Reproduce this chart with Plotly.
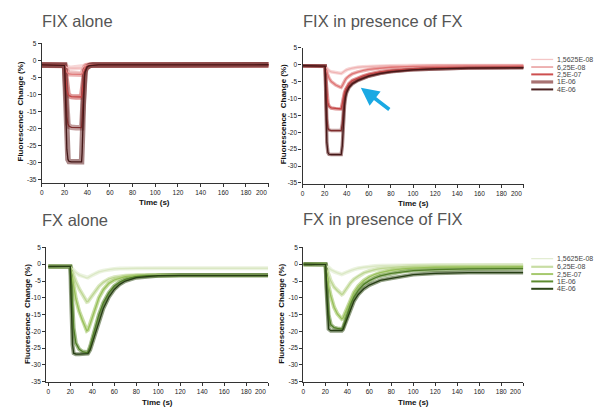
import plotly.graph_objects as go

# The page body has the browser's default 8 px margin, so the figure is made
# 8 px smaller and every pixel position below is given in page pixels.
OFF = 8
W, H = 602 - OFF, 410 - OFF

# ---------------- data ----------------
CONC = ["1,5625E-08", "6,25E-08", "2,5E-07", "1E-06", "4E-06"]

# Panel 1: FIX alone
T_TL = [0, 19, 20, 20.5, 21, 21.5, 22, 23, 24, 26, 30, 35, 35.5, 36, 36.5, 37, 37.5, 38, 39, 40, 42, 45, 50, 100, 150, 200]
TL_1p56e8 = [-1.3, -1.3, -1.4, -1.6, -1.8, -1.95, -2.05, -2.15, -2.2, -2.25, -2.25, -2.25, -2.15, -2.0, -1.85, -1.75, -1.65, -1.55, -1.45, -1.4, -1.35, -1.3, -1.3, -1.3, -1.25, -1.25]
TL_6p25e8 = [-1.3, -1.3, -1.4, -2.0, -2.6, -3.1, -3.4, -3.7, -3.9, -4.0, -4.05, -4.05, -3.8, -3.3, -2.8, -2.4, -2.1, -1.9, -1.6, -1.5, -1.4, -1.35, -1.3, -1.3, -1.25, -1.25]
TL_2p5e7 = [-1.3, -1.3, -1.4, -3.0, -5.5, -7.3, -8.5, -9.8, -10.3, -10.6, -10.7, -10.7, -9.5, -7.5, -5.5, -4.2, -3.3, -2.7, -2.0, -1.7, -1.45, -1.35, -1.3, -1.3, -1.25, -1.25]
TL_1e6 = [-1.3, -1.3, -1.4, -5.0, -10.0, -14.0, -16.5, -18.6, -19.3, -19.6, -19.7, -19.7, -17.5, -13.0, -9.0, -6.0, -4.2, -3.2, -2.2, -1.8, -1.5, -1.35, -1.3, -1.3, -1.25, -1.25]
TL_4e6 = [-1.3, -1.3, -1.4, -6.0, -14.0, -21.0, -26.0, -29.0, -29.6, -29.7, -29.7, -29.7, -27.0, -20.0, -13.0, -8.0, -5.0, -3.5, -2.3, -1.8, -1.5, -1.35, -1.3, -1.3, -1.25, -1.25]

# Panel 2: FIX in presence of FX
T_TR = [0, 20, 20.5, 21, 21.5, 22, 23, 24, 26, 30, 34, 35, 36, 37, 38, 39, 40, 42, 45, 50, 55, 60, 70, 80, 100, 120, 150, 200]
TR_1p56e8 = [-0.3, -0.3, -0.4, -0.7, -0.95, -1.2, -1.5, -1.8, -2.1, -2.4, -2.6, -2.6, -2.4, -2.1, -1.85, -1.65, -1.5, -1.25, -1.0, -0.75, -0.6, -0.5, -0.35, -0.3, -0.25, -0.2, -0.2, -0.2]
TR_6p25e8 = [-0.3, -0.3, -0.5, -1.2, -1.8, -2.4, -3.3, -4.0, -5.0, -6.0, -6.6, -6.7, -6.2, -5.4, -4.8, -4.3, -3.9, -3.3, -2.7, -2.1, -1.7, -1.4, -1.0, -0.75, -0.5, -0.4, -0.35, -0.3]
TR_2p5e7 = [-0.3, -0.3, -0.4, -3.5, -6.5, -8.8, -11.3, -12.3, -12.8, -13.0, -13.1, -13.1, -11.5, -9.5, -8.2, -7.3, -6.6, -5.6, -4.7, -3.9, -3.3, -2.8, -2.1, -1.7, -1.2, -0.95, -0.8, -0.7]
TR_1e6 = [-0.3, -0.3, -0.4, -6.0, -12.0, -16.0, -18.8, -19.3, -19.5, -19.5, -19.5, -19.5, -17.5, -13.0, -10.0, -8.5, -7.5, -6.4, -5.4, -4.5, -3.8, -3.3, -2.5, -2.0, -1.45, -1.15, -0.95, -0.85]
TR_4e6 = [-0.3, -0.3, -0.4, -8.0, -17.0, -23.0, -26.0, -26.5, -26.6, -26.6, -26.6, -26.6, -24.0, -17.0, -12.0, -9.5, -8.2, -6.8, -5.7, -4.7, -4.0, -3.4, -2.6, -2.1, -1.5, -1.2, -1.0, -0.9]

# Panel 3: FX alone
T_BL = [0, 20, 20.5, 21, 22, 23, 25, 28, 31, 35, 36, 38, 40, 43, 46, 50, 55, 60, 65, 70, 80, 90, 100, 120, 150, 200]
BL_1p56e8 = [-0.7, -0.7, -0.9, -1.1, -1.5, -1.9, -2.5, -3.2, -3.6, -4.1, -4.0, -3.6, -3.2, -2.7, -2.3, -1.9, -1.6, -1.4, -1.3, -1.25, -1.2, -1.2, -1.2, -1.2, -1.2, -1.2]
BL_6p25e8 = [-0.7, -0.7, -1.1, -1.6, -2.6, -3.5, -5.2, -7.3, -9.0, -11.2, -11.1, -10.2, -9.2, -7.8, -6.6, -5.4, -4.4, -3.9, -3.6, -3.4, -3.3, -3.2, -3.2, -3.2, -3.2, -3.2]
BL_2p5e7 = [-0.7, -0.7, -1.7, -2.8, -5.0, -7.0, -10.3, -14.0, -16.8, -19.8, -19.6, -17.8, -15.7, -12.6, -10.0, -7.6, -5.7, -4.7, -4.1, -3.7, -3.4, -3.3, -3.3, -3.3, -3.3, -3.3]
BL_1e6 = [-0.7, -0.7, -3.0, -7.0, -14.0, -19.0, -23.5, -25.3, -26.0, -26.4, -26.2, -24.5, -22.0, -18.3, -15.0, -11.5, -8.5, -6.5, -5.3, -4.5, -3.7, -3.4, -3.3, -3.3, -3.3, -3.3]
BL_4e6 = [-0.7, -0.7, -8.0, -16.0, -24.0, -26.5, -26.8, -26.8, -26.8, -26.8, -26.6, -25.5, -23.5, -20.0, -16.8, -13.2, -9.8, -7.5, -6.0, -5.0, -4.0, -3.6, -3.4, -3.3, -3.3, -3.3]

# Panel 4: FX in presence of FIX
T_BR = [0, 20, 20.5, 21, 22, 23, 25, 28, 31, 35, 36, 38, 40, 43, 46, 50, 55, 60, 65, 70, 80, 90, 100, 120, 150, 200]
BR_1p56e8 = [0, 0, -0.2, -0.4, -0.8, -1.1, -1.6, -2.2, -2.6, -3.0, -2.9, -2.6, -2.3, -1.9, -1.55, -1.2, -0.9, -0.7, -0.55, -0.45, -0.35, -0.3, -0.25, -0.2, -0.2, -0.2]
BR_6p25e8 = [0, 0, -0.5, -1.1, -2.3, -3.4, -5.0, -6.8, -7.9, -9.0, -8.8, -7.8, -6.8, -5.5, -4.5, -3.5, -2.6, -2.0, -1.6, -1.3, -0.9, -0.7, -0.55, -0.45, -0.4, -0.4]
BR_2p5e7 = [0, 0, -1.0, -2.2, -4.5, -6.5, -9.5, -12.8, -14.8, -16.3, -16.1, -14.6, -12.8, -10.3, -8.4, -6.5, -4.9, -3.8, -3.0, -2.5, -1.8, -1.4, -1.15, -0.9, -0.8, -0.75]
BR_1e6 = [0, 0, -2.5, -5.5, -11.0, -15.0, -18.0, -18.9, -19.1, -19.3, -19.0, -17.0, -14.8, -12.0, -9.8, -7.8, -6.0, -4.9, -4.1, -3.5, -2.7, -2.2, -1.9, -1.6, -1.4, -1.3]
BR_4e6 = [0, 0, -0.1, -7.0, -16.0, -19.3, -19.8, -19.8, -19.8, -19.8, -19.5, -17.8, -15.8, -13.2, -11.0, -9.0, -7.3, -6.2, -5.4, -4.8, -4.2, -3.6, -3.1, -2.7, -2.5, -2.5]

X_TICKS = [0, 20, 40, 60, 80, 100, 120, 140, 160, 180, 200]
Y_TICKS = [5, 0, -5, -10, -15, -20, -25, -30, -35]

TITLES = ["FIX alone", "FIX in presence of FX", "FX alone", "FX in presence of FIX"]

# ---------------- styles ----------------
RED = ["#f4c6c6", "#e48a8a", "#cd4f4f", "#a87272", "#4a2222"]
RED_RAW = ["#f2bcbc", "#e08282", "#c85050", "#9c5e5e", "#703636"]
RED_FIT = ["#f0b4b4", "#e07575", "#c44444", "#7e2c2c", "#451818"]
GREEN = ["#e3edd2", "#c8dda4", "#a6c96e", "#5e8c30", "#2d4519"]
GREEN_RAW = ["#e0ebcc", "#c4da9c", "#a2c667", "#6a9440", "#4a6232"]
GREEN_FIT = ["#dbe8c4", "#bdd692", "#98c05a", "#4f7d26", "#263d14"]
LEG_W_TOP = [1.3, 1.3, 2, 3.2, 2]
LEG_W_BOT = [1.3, 2.2, 2, 2, 2]

FONT = "Liberation Sans, Arial, sans-serif"


def px(x):
    return (x - OFF) / W


def py(y):
    return 1 - (y - OFF) / H


panels = [
    dict(t=T_TL, ys=[TL_1p56e8, TL_6p25e8, TL_2p5e7, TL_1e6, TL_4e6], col=RED_RAW, fit=RED_FIT,
         xd=(40, 267.5), yd=(40, 182), xr=[0, 200], yr=[-35.9, 5.0], band=5.5),
    dict(t=T_TR, ys=[TR_1p56e8, TR_6p25e8, TR_2p5e7, TR_1e6, TR_4e6], col=RED_RAW, fit=RED_FIT,
         xd=(301.5, 523.3), yd=(44.3, 182.7), xr=[0, 200], yr=[-35.2, 5.05], band=3.5),
    dict(t=T_BL, ys=[BL_1p56e8, BL_6p25e8, BL_2p5e7, BL_1e6, BL_4e6], col=GREEN_RAW, fit=GREEN_FIT,
         xd=(44.3, 267), yd=(247.6, 384.3), xr=[-2, 200], yr=[-35.0, 5.0], band=4.0),
    dict(t=T_BR, ys=[BR_1p56e8, BR_6p25e8, BR_2p5e7, BR_1e6, BR_4e6], col=GREEN_RAW, fit=GREEN_FIT,
         xd=(302.3, 523), yd=(247.6, 384.3), xr=[0, 200], yr=[-35.0, 5.0], band=4.0),
]

fig = go.Figure()
layout = dict(width=W, height=H, margin=dict(l=0, r=0, t=0, b=0),
              paper_bgcolor="white", plot_bgcolor="white", showlegend=False,
              font=dict(family=FONT, color="#222"))
annotations = []
shapes = []

for i, p in enumerate(panels):
    n = i + 1
    xa = "x" if n == 1 else f"x{n}"
    ya = "y" if n == 1 else f"y{n}"
    # raw-data bands
    for k, y in enumerate(p["ys"]):
        fig.add_trace(go.Scatter(x=p["t"], y=y, mode="lines", xaxis=xa, yaxis=ya,
                                 line=dict(color=p["col"][k], width=p["band"]), opacity=0.6,
                                 hoverinfo="skip"))
    # fitted curves
    for k, y in enumerate(p["ys"]):
        fig.add_trace(go.Scatter(x=p["t"], y=y, mode="lines", xaxis=xa, yaxis=ya,
                                 name=CONC[k], line=dict(color=p["fit"][k], width=1.3)))
    axcommon = dict(showgrid=False, zeroline=False, showline=True, linecolor="#333", linewidth=1.2,
                    ticks="outside", ticklen=3, tickwidth=1, tickcolor="#333",
                    tickfont=dict(size=6.5, family=FONT, color="#1a1a1a"), fixedrange=True)
    layout["xaxis" if n == 1 else f"xaxis{n}"] = dict(
        axcommon, domain=[px(p["xd"][0]), px(p["xd"][1])], range=p["xr"], anchor=ya,
        tickvals=X_TICKS, ticktext=[str(v) if v != 200 else "" for v in X_TICKS])
    layout["yaxis" if n == 1 else f"yaxis{n}"] = dict(
        axcommon, domain=[py(p["yd"][1]), py(p["yd"][0])], range=p["yr"], anchor=xa,
        tickvals=Y_TICKS, ticktext=[str(v) for v in Y_TICKS])
    # "200" label, kept inside the axis end like the original
    annotations.append(dict(x=200, y=py(p["yd"][1] + 4.5), xref=xa, yref="paper", yanchor="top",
                            text="200", showarrow=False, xanchor="right",
                            font=dict(size=6.5, family=FONT, color="#1a1a1a")))

# titles
for (x, y, txt) in [(38, 17.5, TITLES[0]), (300, 17.5, TITLES[1]), (38, 220, TITLES[2]), (300, 219, TITLES[3])]:
    annotations.append(dict(x=px(x), y=py(y), xref="paper", yref="paper", text=txt, showarrow=False,
                            xanchor="left", yanchor="middle",
                            font=dict(size=16.5, family=FONT, color="#555555")))
# axis titles
for (x, y) in [(153, 202), (412.5, 202.5), (156, 405), (412.5, 405)]:
    annotations.append(dict(x=px(x), y=py(y), xref="paper", yref="paper", text="<b>Time (s)</b>",
                            showarrow=False, xanchor="center", yanchor="middle",
                            font=dict(size=8, family=FONT, color="#111")))
for (x, y) in [(18.3, 109), (282, 112), (25.5, 315), (281, 315)]:
    annotations.append(dict(x=px(x), y=py(y), xref="paper", yref="paper",
                            text="<b>Fluorescence  Change (%)</b>", textangle=-90,
                            showarrow=False, xanchor="center", yanchor="middle",
                            font=dict(size=8, family=FONT, color="#111")))

# legends (drawn manually to match the tight spacing)
for rows, cols, widths in [([56.3, 64.0, 71.5, 79.2, 86.8], RED, LEG_W_TOP),
                           ([259.0, 267.3, 274.7, 282.2, 289.7], GREEN, LEG_W_BOT)]:
    for k in range(5):
        shapes.append(dict(type="line", xref="paper", yref="paper",
                           x0=px(531), x1=px(553), y0=py(rows[k]), y1=py(rows[k]),
                           line=dict(color=cols[k], width=widths[k])))
        annotations.append(dict(x=px(556), y=py(rows[k]), xref="paper", yref="paper",
                                text=CONC[k], showarrow=False, xanchor="left", yanchor="middle",
                                borderpad=0, font=dict(size=7, family=FONT, color="#444")))

# blue arrow
annotations.append(dict(x=px(360), y=py(85), xref="paper", yref="paper", ax=30, ay=23,
                        axref="pixel", ayref="pixel", text="", showarrow=True,
                        arrowhead=2, arrowsize=1, arrowwidth=3.6, arrowcolor="#1aa9e3"))

layout["annotations"] = annotations
layout["shapes"] = shapes
fig.update_layout(**layout)
fig.write_html("out.html")
